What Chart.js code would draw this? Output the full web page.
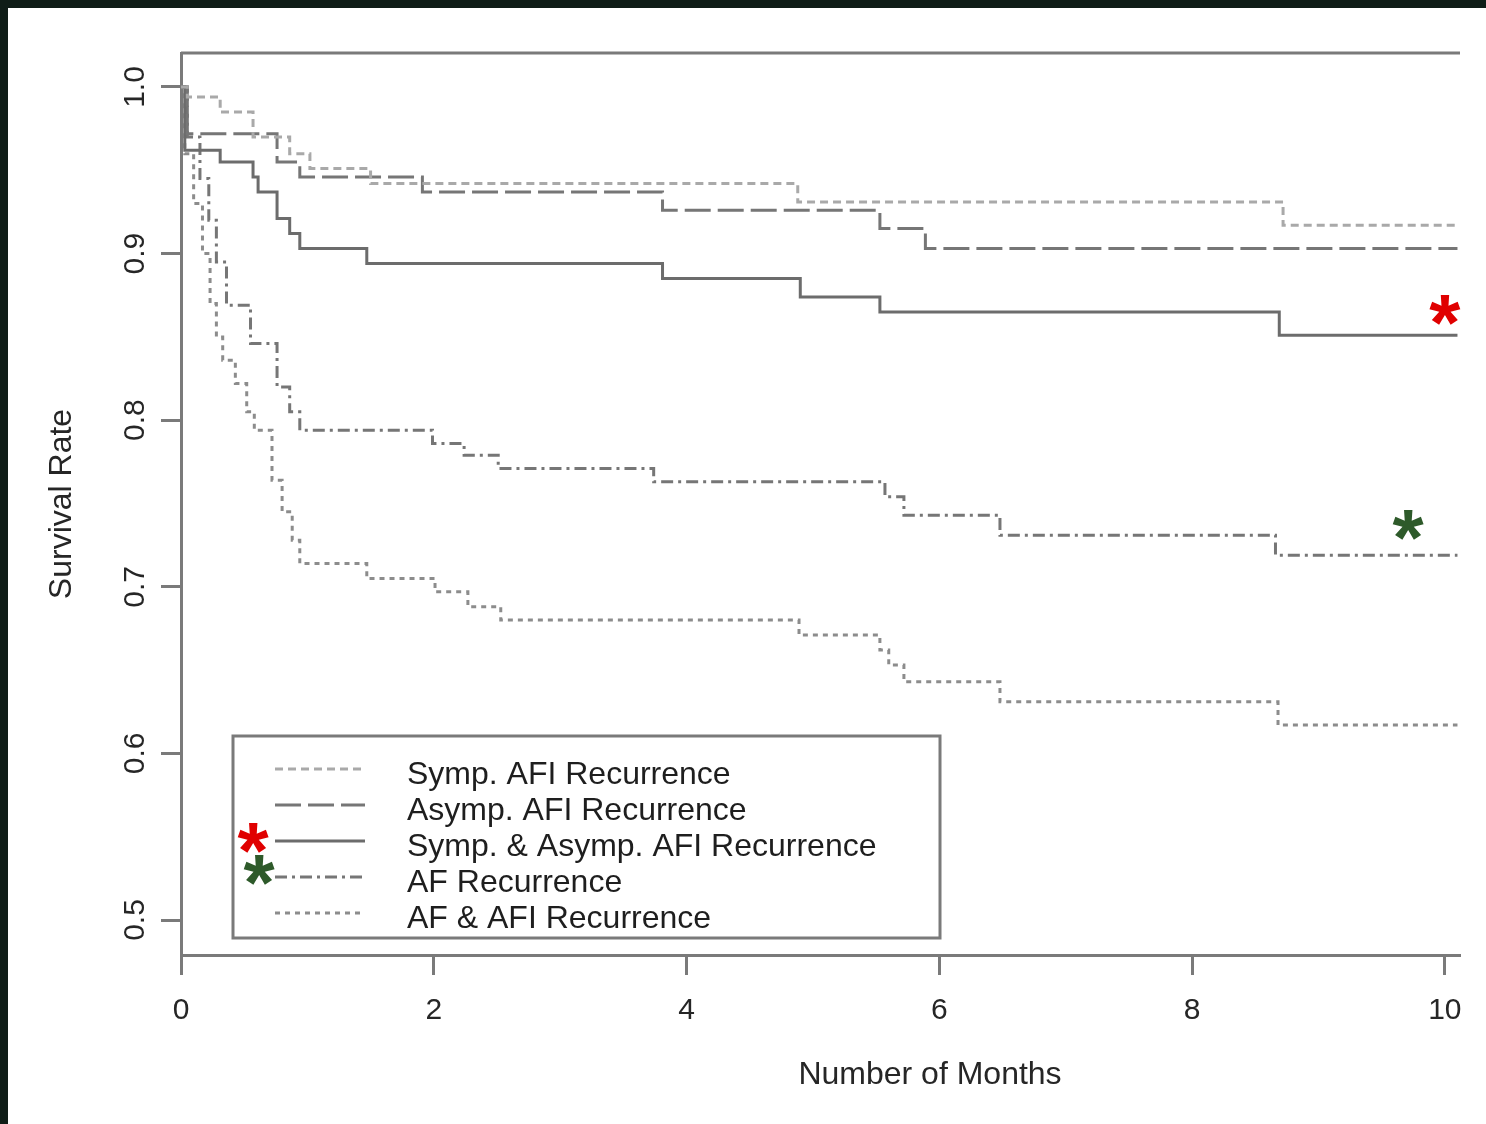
<!DOCTYPE html>
<html>
<head>
<meta charset="utf-8">
<title>Survival Rate</title>
<script src="https://cdn.jsdelivr.net/npm/chart.js@4.4.1/dist/chart.umd.min.js"></script>
<style>
  html, body { margin: 0; padding: 0; background: #fff; }
  #wrap { position: relative; width: 1486px; height: 1124px; overflow: hidden; }
  #grafico { position: absolute; left: 0; top: 0; }
  .moldura { position: absolute; background: #0f1d17; }
</style>
</head>
<body>
<div id="wrap">
  <canvas id="grafico" width="1486" height="1124"></canvas>
  <div class="moldura" style="left:0;top:0;width:1486px;height:8px"></div>
  <div class="moldura" style="left:0;top:0;width:8px;height:1124px"></div>
</div>
<script>
// axis ticks
const x_ticks = [0, 2, 4, 6, 8, 10]
const y_ticks = [0.5, 0.6, 0.7, 0.8, 0.9, 1.0]

const series_names = [
  'Symp. AFI Recurrence',
  'Asymp. AFI Recurrence',
  'Symp. & Asymp. AFI Recurrence',
  'AF Recurrence',
  'AF & AFI Recurrence'
]

// Kaplan-Meier steps: month of each drop and survival after it
const symp_months = [0, 0.05, 0.31, 0.57, 0.86, 1.02, 1.5, 4.88, 8.72, 10.1]
const symp_surv   = [1.0, 0.994, 0.985, 0.970, 0.960, 0.951, 0.942, 0.931, 0.917, 0.917]

const asymp_months = [0, 0.05, 0.76, 0.94, 1.91, 3.81, 5.53, 5.89, 10.1]
const asymp_surv   = [1.0, 0.972, 0.955, 0.946, 0.937, 0.926, 0.915, 0.903, 0.903]

const both_months = [0, 0.03, 0.31, 0.57, 0.61, 0.76, 0.86, 0.94, 1.47, 3.81, 4.90, 5.53, 8.69, 10.1]
const both_surv   = [1.0, 0.962, 0.955, 0.946, 0.937, 0.921, 0.912, 0.903, 0.894, 0.885, 0.874, 0.865, 0.851, 0.851]

const af_months = [0, 0.05, 0.15, 0.22, 0.28, 0.36, 0.55, 0.76, 0.86, 0.94, 1.99, 2.24, 2.51, 3.74, 5.57, 5.72, 6.48, 8.66, 10.1]
const af_surv   = [1.0, 0.970, 0.945, 0.920, 0.895, 0.869, 0.846, 0.820, 0.805, 0.794, 0.786, 0.779, 0.771, 0.763, 0.754, 0.743, 0.731, 0.719, 0.719]

const af_afi_months = [0, 0.03, 0.10, 0.17, 0.23, 0.28, 0.33, 0.43, 0.52, 0.58, 0.72, 0.80, 0.88, 0.94, 1.47, 2.01, 2.27, 2.53, 4.89, 5.53, 5.60, 5.72, 6.48, 8.68, 10.1]
const af_afi_surv   = [1.0, 0.960, 0.930, 0.900, 0.870, 0.850, 0.836, 0.822, 0.805, 0.794, 0.764, 0.745, 0.728, 0.714, 0.705, 0.697, 0.688, 0.680, 0.671, 0.662, 0.653, 0.643, 0.631, 0.617, 0.617]

// asterisk markers placed next to the curves (in data units)
const red_star = {x: 10.0, y: 0.869}
const green_star = {x: 9.71, y: 0.740}

const font_family = '"Liberation Sans", Arial, sans-serif'
Chart.defaults.font.family = font_family

const to_points = (months, surv) => months.map((m, i) => ({x: m, y: surv[i]}))

const line_styles = [
  {color: '#a9a9a9', dash: [8, 5]},
  {color: '#767676', dash: [26, 7]},
  {color: '#6c6c6c', dash: []},
  {color: '#767676', dash: [12, 5, 3, 5]},
  {color: '#8c8c8c', dash: [5, 5]}
]

const all_series = [
  to_points(symp_months, symp_surv),
  to_points(asymp_months, asymp_surv),
  to_points(both_months, both_surv),
  to_points(af_months, af_surv),
  to_points(af_afi_months, af_afi_surv)
]

const datasets = all_series.map((pts, i) => ({
  label: series_names[i],
  data: pts,
  stepped: 'before',
  borderColor: line_styles[i].color,
  borderDash: line_styles[i].dash,
  borderWidth: 3,
  pointRadius: 0,
  fill: false
}))

const draw_star = (ctx, text_color, cx, cy) => {
  ctx.save()
  ctx.font = `bold 80px ${font_family}`
  ctx.fillStyle = text_color
  ctx.textAlign = 'center'
  ctx.textBaseline = 'alphabetic'
  ctx.fillText('*', cx, cy + 45)
  ctx.restore()
}

const decor = {
  id: 'decor',
  beforeDatasetsDraw(chart) {
    const {ctx, chartArea} = chart
    ctx.save()
    ctx.strokeStyle = '#7a7a7a'
    ctx.lineWidth = 3
    ctx.beginPath()
    ctx.moveTo(chartArea.left, chartArea.top)
    ctx.lineTo(chartArea.right, chartArea.top)
    ctx.stroke()
    ctx.restore()
  },
  afterDraw(chart) {
    const {ctx, scales} = chart

    // y tick labels, parallel to the axis
    ctx.save()
    ctx.font = `30px ${font_family}`
    ctx.fillStyle = '#262626'
    ctx.textAlign = 'center'
    ctx.textBaseline = 'middle'
    y_ticks.forEach(v => {
      const py = scales.y.getPixelForValue(v)
      ctx.save()
      ctx.translate(136, py)
      ctx.rotate(-Math.PI / 2)
      ctx.fillText(v.toFixed(1), 0, 0)
      ctx.restore()
    })

    // x axis title
    ctx.font = `32px ${font_family}`
    ctx.fillText('Number of Months', 930, 1075)
    ctx.restore()

    // legend
    ctx.save()
    ctx.fillStyle = '#fff'
    ctx.fillRect(233, 736, 707, 202)
    ctx.strokeStyle = '#7a7a7a'
    ctx.lineWidth = 3
    ctx.strokeRect(233, 736, 707, 202)
    chart.data.datasets.forEach((ds, i) => {
      const y = 775 + i * 36
      ctx.setLineDash(ds.borderDash)
      ctx.strokeStyle = ds.borderColor
      ctx.lineWidth = ds.borderWidth
      ctx.beginPath()
      ctx.moveTo(275, y - 6)
      ctx.lineTo(365, y - 6)
      ctx.stroke()
      ctx.setLineDash([])
      ctx.fillStyle = '#1e1e1e'
      ctx.font = `32px ${font_family}`
      ctx.textAlign = 'left'
      ctx.textBaseline = 'middle'
      ctx.fillText(ds.label, 407, y)
    })
    ctx.restore()

    // asterisks
    draw_star(ctx, '#e00000', scales.x.getPixelForValue(red_star.x), scales.y.getPixelForValue(red_star.y))
    draw_star(ctx, '#2e5a2a', scales.x.getPixelForValue(green_star.x), scales.y.getPixelForValue(green_star.y))
    draw_star(ctx, '#e00000', 253, 833)
    draw_star(ctx, '#2e5a2a', 259, 865)
  }
}

const grafico = new Chart(document.getElementById('grafico'), {
  type: 'line',
  data: {datasets: datasets},
  options: {
    responsive: false,
    animation: false,
    devicePixelRatio: 1,
    layout: {padding: {top: 53, right: 26, bottom: 0, left: 0}},
    plugins: {
      legend: {display: false},
      tooltip: {enabled: false}
    },
    scales: {
      x: {
        type: 'linear',
        min: 0,
        max: 10.12,
        afterBuildTicks: scale => { scale.ticks = x_ticks.map(v => ({value: v})) },
        afterFit: scale => { scale.height = 169 },
        grid: {drawOnChartArea: false, drawTicks: true, tickLength: 20, tickColor: '#7a7a7a', tickWidth: 3},
        border: {color: '#7a7a7a', width: 3},
        ticks: {font: {size: 30}, color: '#262626', padding: 18, maxRotation: 0, autoSkip: false}
      },
      y: {
        type: 'linear',
        min: 0.479,
        max: 1.0204,
        afterBuildTicks: scale => { scale.ticks = y_ticks.map(v => ({value: v})) },
        afterFit: scale => { scale.width = 181 },
        grid: {drawOnChartArea: false, drawTicks: true, tickLength: 20, tickColor: '#7a7a7a', tickWidth: 3},
        border: {color: '#7a7a7a', width: 3},
        ticks: {display: false},
        title: {display: true, text: 'Survival Rate', font: {size: 32}, color: '#262626', padding: {top: 43, bottom: 0}}
      }
    }
  },
  plugins: [decor]
})
</script>
</body>
</html>
